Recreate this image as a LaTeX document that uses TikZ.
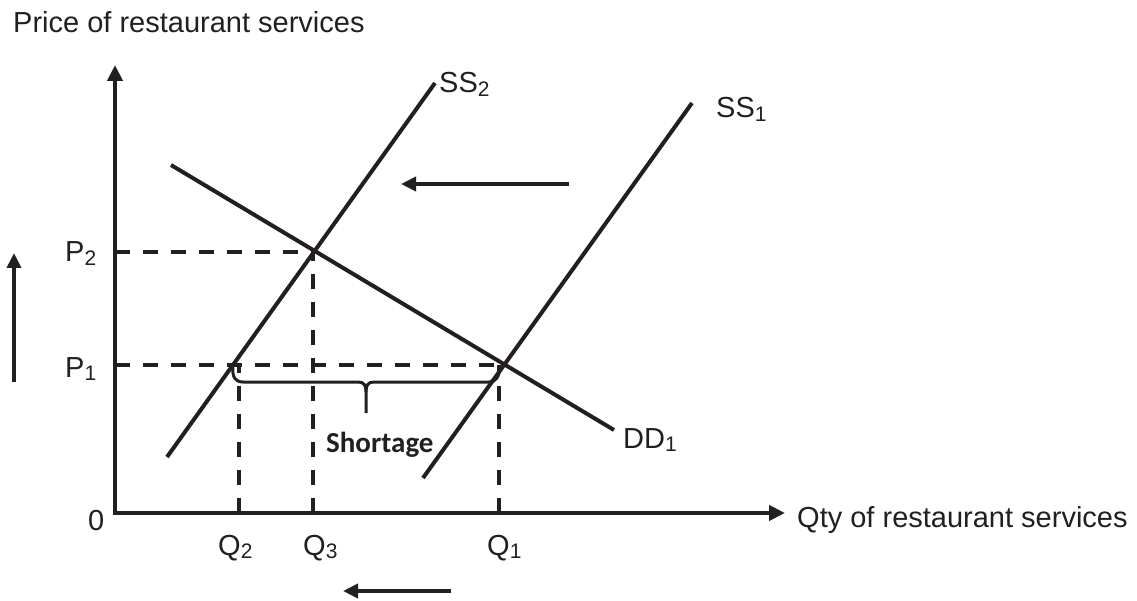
\documentclass[tikz,border=0pt]{standalone}
\usepackage{fontspec}
\setmainfont{Liberation Sans}
\newfontfamily\calib{Carlito}
\usetikzlibrary{arrows.meta}
\definecolor{ink}{HTML}{231F20}
\newcommand\lowsub[1]{\raisebox{-3.5pt}{\fontsize{21}{21}\selectfont #1}}
\begin{document}
\begin{tikzpicture}[x=1pt,y=-1pt,
  ink,
  font=\fontsize{29}{34}\selectfont,
  axis/.style={line width=4pt, line join=miter, {Triangle[length=16pt,width=15pt]}-{Triangle[length=16pt,width=15pt]}},
  curve/.style={line width=4pt},
  guide/.style={line width=4pt, dash pattern=on 15pt off 13pt},
  bracepath/.style={line width=3pt, line join=round},
  movearrow/.style={line width=4pt, -{Triangle[length=15pt,width=14pt]}},
  lbl/.style={anchor=base west, inner sep=0pt, text=ink}]
\useasboundingbox (0,0) rectangle (1137,601);
% axes
\coordinate (O) at (115,513);
\coordinate (Ytop) at (115,65);
\coordinate (Xend) at (785,513);
\draw[axis] (Ytop) -- (O) -- (Xend);
% curves
\coordinate (ss2a) at (167,457); \coordinate (ss2b) at (435,83);
\coordinate (ss1a) at (423,478); \coordinate (ss1b) at (692,103);
\coordinate (dda) at (171,165);  \coordinate (ddb) at (614,430);
\draw[curve] (ss2a) -- (ss2b);
\draw[curve] (ss1a) -- (ss1b);
\draw[curve] (dda) -- (ddb);
% guides
\coordinate (yP2) at (115,252); \coordinate (E2) at (313,252);
\coordinate (yP1) at (115,365); \coordinate (E1) at (500,365);
\coordinate (A) at (239,365);
\coordinate (xQ2) at (239,513); \coordinate (xQ3) at (313,513);
\coordinate (B) at (499,365); \coordinate (xQ1) at (499,513);
\draw[guide] (yP2) -- (E2);
\draw[guide] (yP1) -- (E1);
\draw[guide] (xQ2) -- (A);
\draw[guide] (xQ3) -- (E2);
\draw[guide] (xQ1) -- (B);
% brace
\draw[bracepath] (233,366) .. controls (232,377) and (235,382) .. (243,382)
  -- (358,382) .. controls (364,382) and (366,385) .. (366,392) -- (366,413);
\draw[bracepath] (366,392) .. controls (366,385) and (368,382) .. (374,382)
  -- (489,382) .. controls (496,382) and (499,377) .. (500,367);
% shift arrows
\coordinate (h1) at (569,184); \coordinate (h2) at (401,184);
\coordinate (v1) at (14,382);  \coordinate (v2) at (14,253);
\coordinate (b1) at (451,591); \coordinate (b2) at (343,591);
\draw[movearrow] (h1) -- (h2);
\draw[movearrow] (v1) -- (v2);
\draw[movearrow] (b1) -- (b2);
% labels
\node[lbl] (ylab) at (13,33) {Price of restaurant services};
\node[lbl] (xlab) at (797,527) {Qty of restaurant services};
\node[lbl] (zero) at (88,530) {0};
\node[lbl] (p2) at (65,262) {P\lowsub{2}};
\node[lbl] (p1) at (65,377) {P\lowsub{1}};
\node[lbl] (q2) at (218,555) {Q\lowsub{2}};
\node[lbl] (q3) at (303,555) {Q\lowsub{3}};
\node[lbl] (q1) at (487,555) {Q\lowsub{1}};
\node[lbl] (ss2) at (439,93) {SS\lowsub{2}};
\node[lbl] (ss1) at (716,118) {SS\lowsub{1}};
\node[lbl] (dd1) at (623,448) {DD\lowsub{1}};
\node[lbl, font=\calib\bfseries\fontsize{29}{34}\selectfont] (short) at (326,452) {Shortage};
\end{tikzpicture}
\end{document}
